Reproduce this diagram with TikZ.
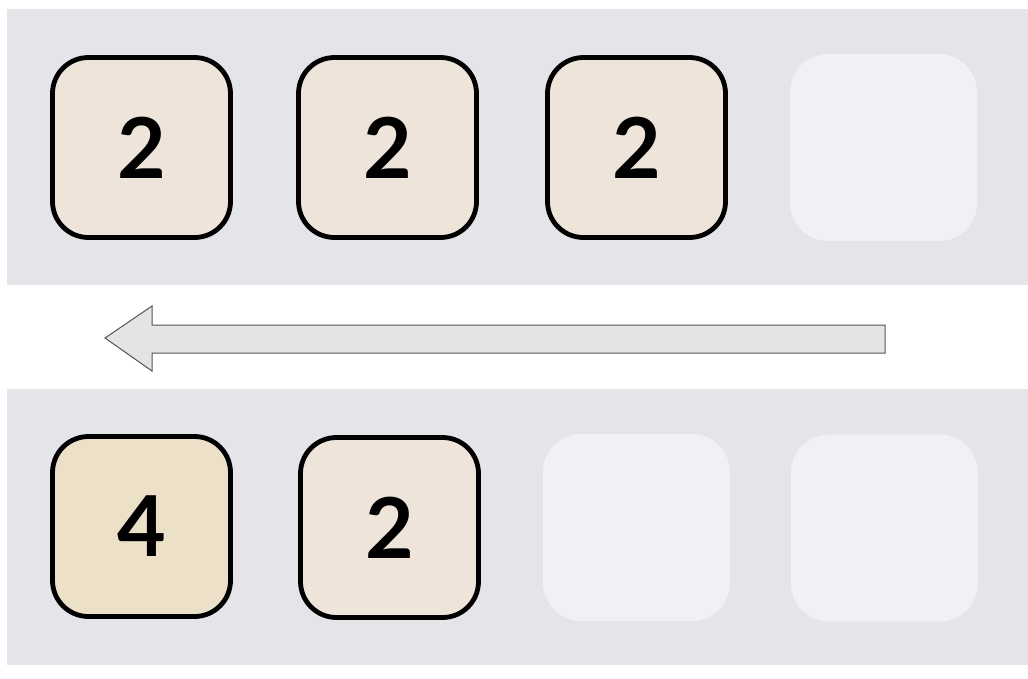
\documentclass[tikz,border=0pt]{standalone}
\usepackage{fontspec}
\setmainfont{Lato}
\definecolor{panelbg}{HTML}{E4E4E9}
\definecolor{emptytile}{HTML}{F0F0F5}
\definecolor{tiletwo}{HTML}{EEE4DA}
\definecolor{tilefour}{HTML}{EDE0C8}
\definecolor{arrowfill}{HTML}{E4E4E4}
\definecolor{arrowline}{HTML}{555555}
\tikzset{
  panel/.style={fill=panelbg, draw=none},
  tile/.style={rectangle, rounded corners=36pt, minimum width=178pt, minimum height=180pt,
    draw=black, line width=4.8pt, font=\fontsize{84}{84}\selectfont\bfseries, inner sep=0pt},
  tiletwostyle/.style={tile, fill=tiletwo},
  tilefourstyle/.style={tile, fill=tilefour},
  emptystyle/.style={rectangle, rounded corners=38pt, minimum width=187pt, minimum height=187pt, fill=emptytile, draw=none},
  bigarrow/.style={fill=arrowfill, draw=arrowline, line width=1pt, line join=miter}
}
\begin{document}
\begin{tikzpicture}[x=1pt,y=-1pt]
\useasboundingbox (0,0) rectangle (1028,678);
\fill[white] (0,0) rectangle (1028,678);
% panels
\fill[panel] (7,9) rectangle (1028,285);
\fill[panel] (7,389) rectangle (1028,665);
% top row
\node[tiletwostyle] (t1) at (141.5,147.5) {2};
\node[tiletwostyle] (t2) at (387.5,147.5) {2};
\node[tiletwostyle] (t3) at (636.5,147.5) {2};
\node[emptystyle] (t4) at (883.5,147.5) {};
% bottom row
\node[tilefourstyle] (b1) at (141.5,526.5) {4};
\node[tiletwostyle] (b2) at (389.5,527.5) {2};
\node[emptystyle] (b3) at (636.5,527.5) {};
\node[emptystyle] (b4) at (884.5,528) {};
% arrow
\draw[bigarrow] (885,325) -- (152,325) -- (152,306) -- (105,338) -- (152,371) -- (152,353) -- (885,353) -- cycle;
\end{tikzpicture}
\end{document}
